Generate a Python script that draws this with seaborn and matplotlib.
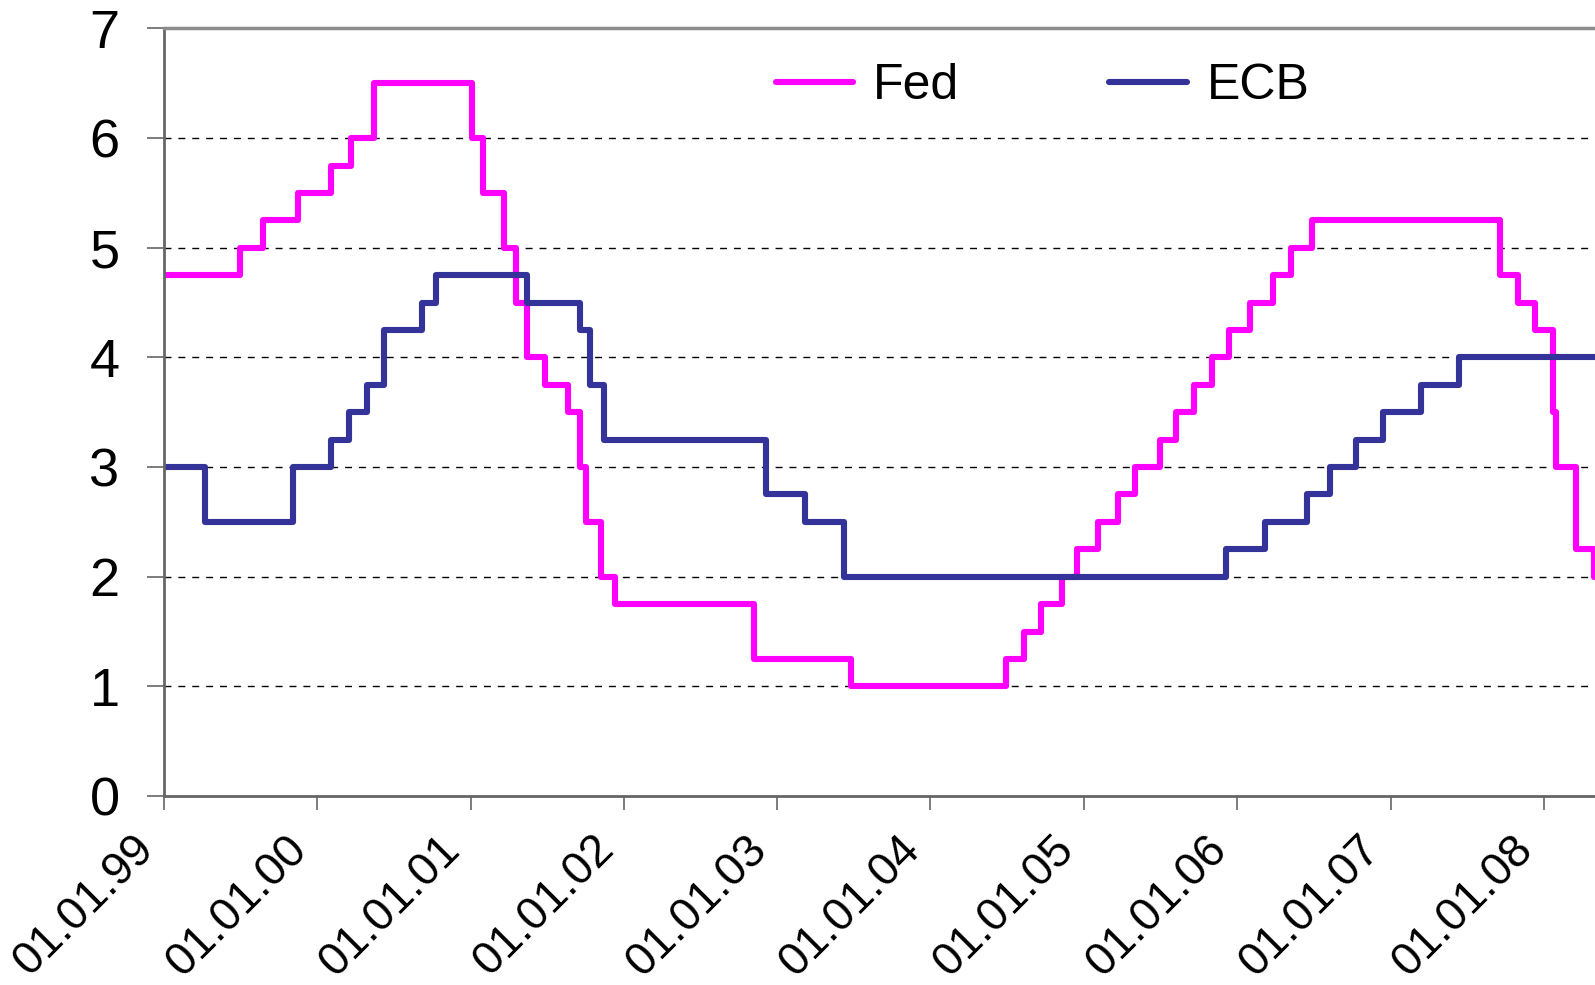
import matplotlib
matplotlib.use("Agg")
import matplotlib.pyplot as plt
import matplotlib.dates as mdates
import matplotlib.transforms as mtransforms
import pandas as pd
import seaborn as sns

# Fed funds target rate: change dates and new levels
fed_dates = [
    "1999-01-01", "1999-06-30", "1999-08-24", "1999-11-16", "2000-02-02",
    "2000-03-21", "2000-05-16", "2001-01-03", "2001-01-31", "2001-03-20",
    "2001-04-18", "2001-05-15", "2001-06-27", "2001-08-21", "2001-09-17",
    "2001-10-02", "2001-11-06", "2001-12-11", "2002-11-06", "2003-06-25",
    "2004-06-30", "2004-08-10", "2004-09-21", "2004-11-10", "2004-12-14",
    "2005-02-02", "2005-03-22", "2005-05-03", "2005-06-30", "2005-08-09",
    "2005-09-20", "2005-11-01", "2005-12-13", "2006-01-31", "2006-03-28",
    "2006-05-10", "2006-06-29", "2007-09-18", "2007-10-31", "2007-12-11",
    "2008-01-22", "2008-01-30", "2008-03-18", "2008-04-30", "2008-05-02",
]
fed_rates = [
    4.75, 5.00, 5.25, 5.50, 5.75,
    6.00, 6.50, 6.00, 5.50, 5.00,
    4.50, 4.00, 3.75, 3.50, 3.00,
    2.50, 2.00, 1.75, 1.25, 1.00,
    1.25, 1.50, 1.75, 2.00, 2.25,
    2.50, 2.75, 3.00, 3.25, 3.50,
    3.75, 4.00, 4.25, 4.50, 4.75,
    5.00, 5.25, 4.75, 4.50, 4.25,
    3.50, 3.00, 2.25, 2.00, 2.00,
]

# ECB main refinancing rate
ecb_dates = [
    "1999-01-01", "1999-04-09", "1999-11-05", "2000-02-04", "2000-03-17",
    "2000-04-28", "2000-06-09", "2000-09-06", "2000-10-11", "2001-05-15",
    "2001-09-18", "2001-10-11", "2001-11-14", "2002-12-06", "2003-03-07",
    "2003-06-09", "2005-12-06", "2006-03-08", "2006-06-15", "2006-08-09",
    "2006-10-11", "2006-12-13", "2007-03-14", "2007-06-13", "2008-05-02",
]
ecb_rates = [
    3.00, 2.50, 3.00, 3.25, 3.50,
    3.75, 4.25, 4.50, 4.75, 4.50,
    4.25, 3.75, 3.25, 2.75, 2.50,
    2.00, 2.25, 2.50, 2.75, 3.00,
    3.25, 3.50, 3.75, 4.00, 4.00,
]

series_names = ["Fed", "ECB"]
colors = {"Fed": "#FF00FF", "ECB": "#333399"}
year_ticks = pd.date_range("1999-01-01", "2008-01-01", freq="YS")

df = pd.concat([
    pd.DataFrame({"date": pd.to_datetime(fed_dates), "rate": fed_rates, "bank": "Fed"}),
    pd.DataFrame({"date": pd.to_datetime(ecb_dates), "rate": ecb_rates, "bank": "ECB"}),
], ignore_index=True)

sns.set_style("white")
plt.rcParams["font.family"] = ["Liberation Sans", "DejaVu Sans"]
plt.rcParams["text.color"] = "black"

fig = plt.figure(figsize=(15.95, 9.85), dpi=100)
ax = fig.add_axes([0.1028, 0.1919, 0.8972, 0.7792])

sns.lineplot(
    data=df, x="date", y="rate", hue="bank", hue_order=series_names,
    palette=colors, drawstyle="steps-post", linewidth=4.4,
    estimator=None, legend=False, ax=ax,
)
for line in ax.lines:
    line.set_solid_joinstyle("round")

ax.set_xlim(pd.Timestamp("1999-01-01"), pd.Timestamp("2008-05-02"))
ax.set_ylim(0, 7)
ax.set_yticks(range(0, 8))
ax.set_xticks(year_ticks)
ax.xaxis.set_major_formatter(mdates.DateFormatter("%d.%m.%y"))
ax.set_xlabel("")
ax.set_ylabel("")

for y in range(1, 7):
    ax.axhline(y, color="black", lw=1.0, ls=(0, (5, 5)), zorder=0)

for side in ["left", "bottom"]:
    ax.spines[side].set_color("#666666")
    ax.spines[side].set_linewidth(2)
ax.spines["top"].set_color("#8c8c8c")
ax.spines["top"].set_linewidth(2.5)
ax.spines["right"].set_visible(False)

ax.tick_params(axis="y", direction="out", length=12, width=1.2, color="#666666",
               labelsize=39, labelcolor="black", pad=20, left=True)
ax.tick_params(axis="x", direction="out", length=10, width=1.2, color="#666666",
               labelsize=33, labelcolor="black", pad=11, bottom=True)
shift = mtransforms.ScaledTranslation(-0.33, -0.02, fig.dpi_scale_trans)
for lab in ax.get_xticklabels():
    lab.set_rotation(45)
    lab.set_ha("right")
    lab.set_va("top")
    lab.set_rotation_mode("anchor")
    lab.set_transform(lab.get_transform() + shift)

handles = [plt.Line2D([], [], color=colors[n], lw=4.4, solid_capstyle="round") for n in series_names]
ax.legend(handles, series_names, loc="center", bbox_to_anchor=(0.614, 0.925),
          ncol=2, frameon=False, fontsize=36, handlelength=1.55,
          handletextpad=0.4, columnspacing=3.0)

fig.savefig("out.png", dpi=100)
